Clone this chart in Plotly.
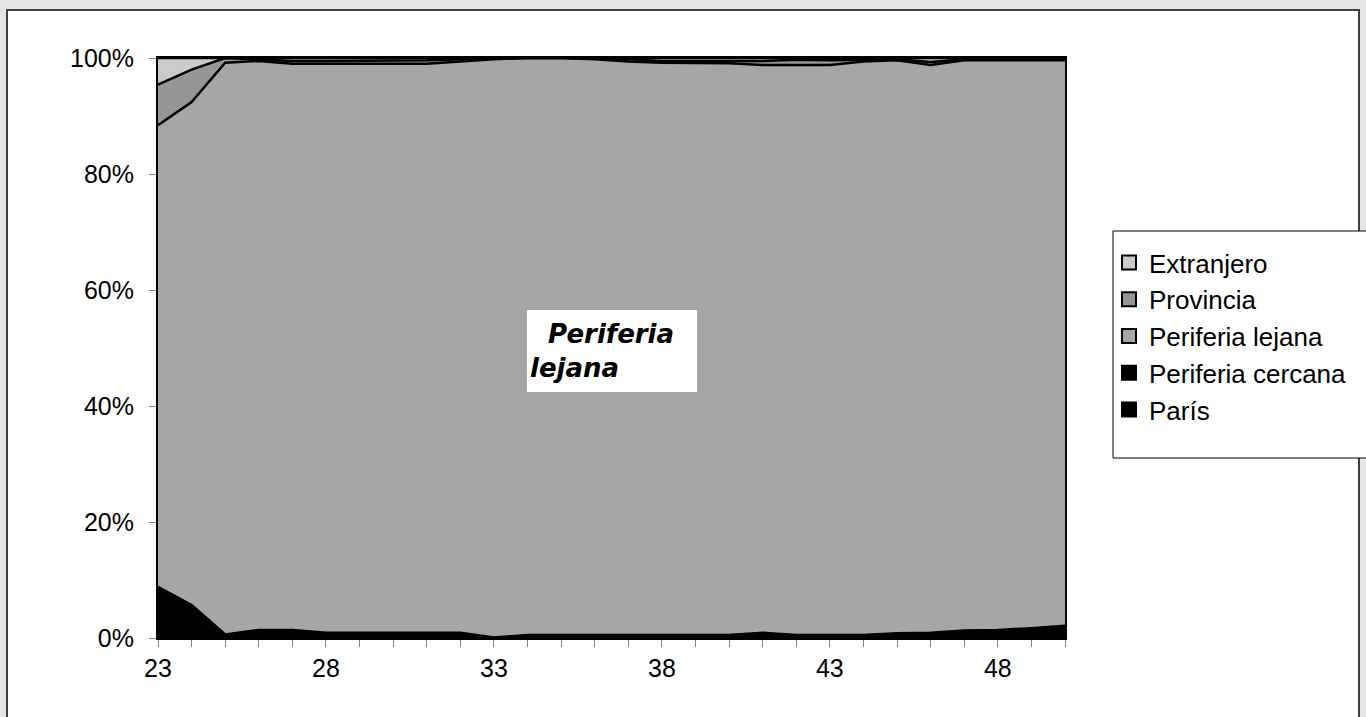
import plotly.graph_objects as go

# ---- data (percent shares per year) ----
years = list(range(23, 51))
paris = [8.0, 5.2, 0.5, 1.3, 1.3, 0.8, 0.8, 0.8, 0.8, 0.8, 0.0, 0.4, 0.4, 0.4,
         0.4, 0.4, 0.4, 0.4, 0.8, 0.4, 0.4, 0.4, 0.7, 0.8, 1.2, 1.3, 1.6, 2.0]
periferia_cercana = [0.8, 0.5, 0.1, 0.1, 0.1, 0.1, 0.1, 0.1, 0.1, 0.1, 0.1, 0.1, 0.1, 0.1,
                     0.1, 0.1, 0.1, 0.1, 0.1, 0.1, 0.1, 0.1, 0.1, 0.1, 0.1, 0.1, 0.1, 0.1]
periferia_lejana = [79.6, 86.7, 98.6, 98.1, 97.6, 98.1, 98.1, 98.1, 98.1, 98.5, 99.7, 99.5, 99.5, 99.3,
                    98.9, 98.7, 98.7, 98.6, 97.9, 98.3, 98.3, 98.9, 98.8, 97.9, 98.3, 98.2, 97.9, 97.5]
provincia = [7.0, 5.6, 0.8, 0.3, 0.5, 0.5, 0.5, 0.6, 0.6, 0.4, 0.2, 0.0, 0.0, 0.2,
             0.4, 0.3, 0.3, 0.4, 0.7, 0.9, 0.8, 0.3, 0.2, 0.5, 0.2, 0.2, 0.2, 0.2]
extranjero = [4.6, 2.0, 0.0, 0.2, 0.5, 0.5, 0.5, 0.4, 0.4, 0.2, 0.0, 0.0, 0.0, 0.0,
              0.2, 0.5, 0.5, 0.5, 0.5, 0.3, 0.4, 0.3, 0.2, 0.7, 0.2, 0.2, 0.2, 0.2]

series_names = ["París", "Periferia cercana", "Periferia lejana", "Provincia", "Extranjero"]
series_values = [paris, periferia_cercana, periferia_lejana, provincia, extranjero]
series_colors = ["#000000", "#000000", "#A6A6A6", "#969696", "#CBCBCB"]

y_tick_vals = [0, 20, 40, 60, 80, 100]
y_tick_text = ["0%", "20%", "40%", "60%", "80%", "100%"]
x_tick_vals = [23, 28, 33, 38, 43, 48]
x_tick_text = ["23", "28", "33", "38", "43", "48"]

label_text = "\u00a0\u00a0Periferia<br>lejana"

# ---- layout geometry (pixels) ----
W, H = 1366, 717
ML, MR, MT, MB = 158, 301, 58, 79
PW, PH = W - ML - MR, H - MT - MB


def px_x(px):
    return (px - ML) / PW


def px_y(py):
    return (H - MB - py) / PH


fig = go.Figure()
for name, vals, col in zip(series_names, series_values, series_colors):
    fig.add_trace(go.Scatter(
        x=years, y=vals, name=name, mode="lines",
        stackgroup="one", groupnorm="percent",
        line=dict(color="#000000", width=2.5),
        fillcolor=col, showlegend=False,
    ))

# legend entries drawn as square swatches, top entry first
for name, col in reversed(list(zip(series_names, series_colors))):
    fig.add_trace(go.Scatter(
        x=[None], y=[None], name=name, mode="markers",
        legendgroup=name,
        marker=dict(symbol="square", size=14, color=col,
                    line=dict(color="#000000", width=2)),
    ))

fig.update_layout(
    width=W, height=H,
    margin=dict(l=ML, r=MR, t=MT, b=MB),
    paper_bgcolor="#E5E5E5",
    plot_bgcolor="#FFFFFF",
    font=dict(family="Liberation Sans, Arial, sans-serif", size=25, color="#000000"),
    showlegend=True,
    legend=dict(
        traceorder="grouped", tracegroupgap=0,
        x=px_x(1109), y=px_y(239), xanchor="left", yanchor="top",
        bgcolor="rgba(0,0,0,0)", borderwidth=0,
        font=dict(size=26),
        itemclick=False,
    ),
    xaxis=dict(
        range=[23, 50], tickmode="array", tickvals=x_tick_vals, ticktext=x_tick_text,
        ticks="outside", ticklen=7, tickcolor="#808080", tickwidth=1,
        minor=dict(dtick=1, tick0=23, ticks="outside", ticklen=7, tickcolor="#808080", tickwidth=1),
        showline=True, linecolor="#000000", linewidth=2, mirror=True,
        showgrid=False, zeroline=False,
        ticklabelstandoff=0,
    ),
    yaxis=dict(
        range=[0, 100], tickmode="array", tickvals=y_tick_vals, ticktext=y_tick_text,
        ticks="outside", ticklen=7, tickcolor="#808080", tickwidth=1,
        showline=True, linecolor="#000000", linewidth=2, mirror=True,
        showgrid=False, zeroline=False,
        ticklabelstandoff=10,
    ),
    shapes=[
        dict(type="rect", xref="paper", yref="paper", layer="below",
             x0=px_x(7), x1=px_x(1359), y0=px_y(722), y1=px_y(10),
             fillcolor="#FFFFFF", line=dict(color="#404040", width=2)),
        dict(type="rect", xref="paper", yref="paper", layer="below",
             x0=px_x(1113), x1=px_x(1372), y0=px_y(458), y1=px_y(231),
             fillcolor="#FFFFFF", line=dict(color="#000000", width=1)),
        dict(type="rect", xref="paper", yref="paper", layer="above",
             x0=px_x(527), x1=px_x(697), y0=px_y(392), y1=px_y(310),
             fillcolor="#FFFFFF", line=dict(width=0)),
    ],
    annotations=[
        dict(text="<b><i>" + label_text + "</i></b>", xref="paper", yref="paper",
             x=px_x(528), y=px_y(351), xanchor="left", yanchor="middle",
             align="left", showarrow=False,
             font=dict(family="DejaVu Sans, Verdana, sans-serif", size=26, color="#000000")),
    ],
)

fig.write_html("out.html",
               config={"displayModeBar": False},
               post_script="document.body.style.margin='0';document.body.style.padding='0';")
